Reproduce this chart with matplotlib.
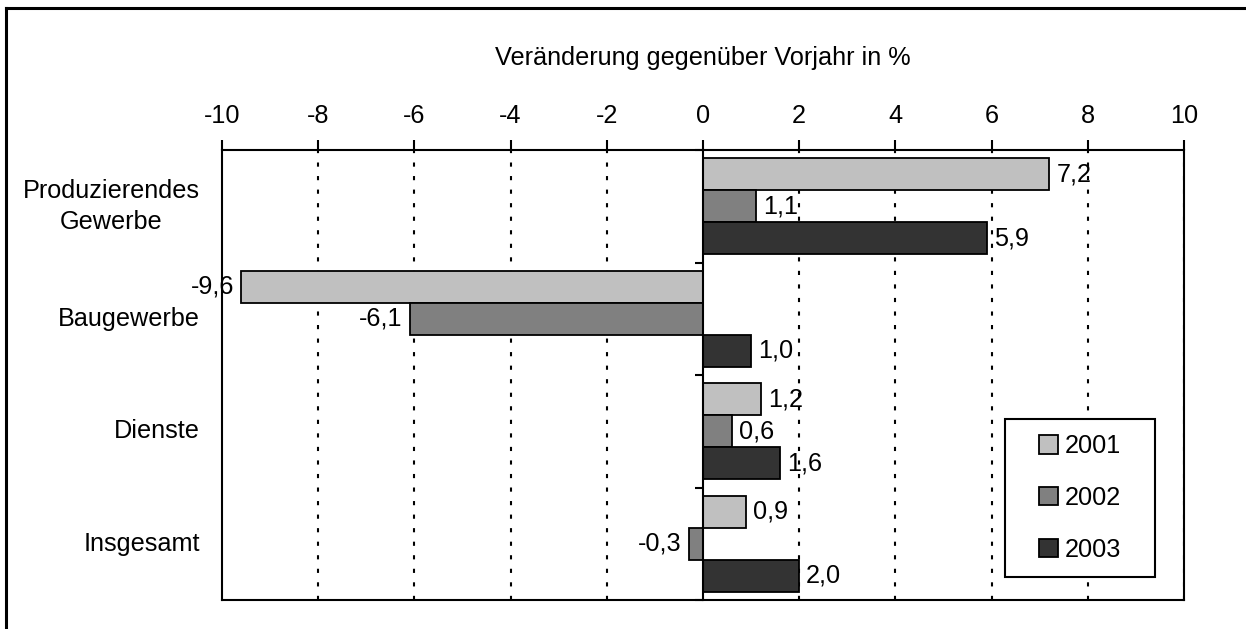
import matplotlib
matplotlib.use("Agg")
import matplotlib.pyplot as plt
from matplotlib.patches import Patch, Rectangle
from matplotlib.lines import Line2D
import numpy as np

# --- Daten ---
categories = ["Produzierendes\nGewerbe", "Baugewerbe", "Dienste", "Insgesamt"]
years = ["2001", "2002", "2003"]
v2001 = [7.2, -9.6, 1.2, 0.9]
v2002 = [1.1, -6.1, 0.6, -0.3]
v2003 = [5.9, 1.0, 1.6, 2.0]
x_ticks = [-10, -8, -6, -4, -2, 0, 2, 4, 6, 8, 10]
x_label = "Veränderung gegenüber Vorjahr in %"

colors = ["#c0c0c0", "#808080", "#333333"]
FS = 18.2

plt.rcParams['font.family'] = ['Liberation Sans', 'DejaVu Sans']

fig = plt.figure(figsize=(12.46, 6.29), dpi=100)
ax = fig.add_axes([222/1246, 1-600/629, 962/1246, 450/629])

# Rahmen oben/links (Bild beschnitten)
fig.add_artist(Line2D([6/1246, 1], [1-8/629, 1-8/629], color="black", lw=2.2,
                      transform=fig.transFigure))
fig.add_artist(Line2D([6/1246, 6/1246], [0, 1-8/629], color="black", lw=2.2,
                      transform=fig.transFigure))

y = np.arange(len(categories))
h = 0.285
series = [v2001, v2002, v2003]
for j, vals in enumerate(series):
    bars = ax.barh(y + (j-1)*h, vals, height=h, color=colors[j],
                   edgecolor="black", linewidth=1.3, zorder=3)
    ax.bar_label(bars, labels=[f"{v:.1f}".replace(".", ",") for v in vals],
                 padding=5, fontsize=FS, zorder=4)

ax.set_xlim(-10, 10)
ax.set_ylim(len(categories)-0.5, -0.5)

# x-Achse oben
ax.xaxis.tick_top()
ax.xaxis.set_label_position("top")
ax.set_xticks(x_ticks)
ax.set_xticklabels([str(t) for t in x_ticks], fontsize=FS)
ax.tick_params(axis="x", direction="out", length=7, width=1.5, pad=9)
ax.set_xlabel(x_label, fontsize=FS, labelpad=28)

# Gitterlinien punktiert
for t in x_ticks[1:]:
    if t == 0:
        continue
    ax.axvline(t, color="black", lw=1.5, linestyle=(0, (2, 4.5)), zorder=1)

# Kategorieachse bei 0
ax.spines["left"].set_position(("data", 0))
ax.spines["left"].set_zorder(5)
ax.set_yticks(np.arange(len(categories)+1) - 0.5)
ax.set_yticklabels([])
ax.tick_params(axis="y", direction="out", length=6, width=1.5)
ax.axvline(-10, color="black", lw=1.5, clip_on=False, zorder=5)
for sp in ["top", "right", "bottom", "left"]:
    ax.spines[sp].set_linewidth(1.5)

for i, c in enumerate(categories):
    ax.text(-0.023, i, c, transform=ax.get_yaxis_transform(), ha="right",
            va="center", multialignment="center", linespacing=1.35, fontsize=FS)

# Legende
handles = [Patch(facecolor=colors[j], edgecolor="black", linewidth=1.3) for j in range(3)]
ax.legend(handles, years, loc="center", bbox_to_anchor=(0.892, 0.2267),
          frameon=False, fontsize=FS, handlelength=0.75, handleheight=0.75,
          handletextpad=0.25, labelspacing=1.1)
ax.add_patch(Rectangle((0.814, 0.051), 0.156, 0.351, transform=ax.transAxes,
                       facecolor="white", edgecolor="black", lw=1.5, zorder=4))
ax.get_legend().set_zorder(6)

fig.savefig("out.png", dpi=100)
